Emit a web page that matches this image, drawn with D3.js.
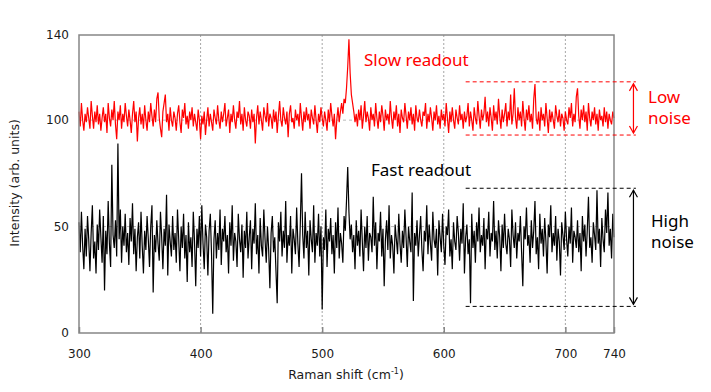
<!DOCTYPE html>
<html>
<head>
<meta charset="utf-8">
<script src="https://cdn.jsdelivr.net/npm/d3@7"></script>
<style>
  body { margin: 0; background: #fff; }
  text { font-family: "DejaVu Sans", sans-serif; }
  .note { font-family: "Noto Sans", sans-serif; }
</style>
</head>
<body>
<div id="chart"></div>
<script>
// Raman shift runs 300..740 cm-1, one point per cm-1
const shiftStart = 300;
const xTicks = [300, 400, 500, 600, 700, 740];
const yTicks = [0, 50, 100, 140];
const yGrid = [50, 100];

// slow readout (red)
const slowReadout = [
  104,97,108,100,95,103,99,106,101,96, 109,102,96,104,99,107,98,103,95,101,
  106,99,103,94,108,101,97,105,100,109, 98,91,104,100,107,96,103,99,108,102,
  97,105,100,94,103,109,99,104,90,101, 106,98,103,96,107,100,95,104,99,108,
  102,97,105,99,110,113,101,96,92,104, 108,112,99,103,95,106,100,97,104,101,
  95,103,107,99,94,105,101,108,98,102, 96,104,100,106,97,103,99,95,105,100,
  91,102,98,104,93,100,106,97,103,99, 95,105,101,98,107,100,96,104,99,103,
  108,97,101,105,94,103,99,107,100,96, 104,101,109,98,103,95,106,100,97,104,
  102,96,105,99,103,89,101,107,98,104, 100,95,106,102,99,108,97,103,101,96,
  105,99,104,94,102,109,100,97,106,101, 98,104,92,103,107,99,101,96,105,100,
  103,97,108,101,95,104,99,106,100,103, 96,105,101,98,107,100,94,103,99,106,
  101,97,104,100,95,105,99,108,102,97, 103,91,100,106,99,104,108,103,110,108,
  115,125,138,122,112,108,104,99,103,97, 105,100,107,96,102,109,99,104,101,95,
  106,100,103,97,108,101,96,104,99,107, 102,95,105,100,103,98,109,101,96,104,
  100,107,97,103,94,105,101,99,108,102, 96,104,100,106,98,103,95,107,101,99,
  105,100,97,104,102,108,96,103,99,106, 101,95,104,100,107,98,102,96,105,100,
  103,97,108,101,94,104,99,106,100,96, 105,101,98,107,100,103,96,104,99,102,
  108,97,104,100,95,106,101,98,109,102, 96,105,100,103,111,99,104,97,106,101,
  95,107,100,104,98,110,102,96,105,99, 103,108,97,104,100,112,98,103,115,101,
  96,106,100,104,97,109,101,95,105,100, 107,99,103,96,110,117,101,98,104,95,
  106,100,103,97,108,101,94,105,99,104, 100,96,107,102,99,105,97,103,101,95,
  104,100,98,106,101,108,97,103,99,111, 115,102,96,105,100,107,99,104,95,108,
  101,97,104,100,106,98,103,95,105,100, 102,97,106,99,104,96,103,100,98,104,
  101
];

// fast readout (black)
const fastReadout = [
  52,38,57,41,30,49,36,55,44,29, 47,60,35,43,28,51,39,58,45,33,
  55,20,48,37,62,42,31,79,46,40, 53,36,89,44,58,33,50,41,56,38,
  47,32,54,43,61,37,49,29,45,52, 35,57,41,28,48,39,55,44,31,50,
  60,19,46,38,53,42,34,57,45,30, 49,41,65,27,51,43,36,55,39,47,
  33,58,44,29,50,40,56,35,46,24, 52,38,45,31,57,43,22,49,40,55,
  36,60,42,30,51,45,27,48,56,37, 9,44,53,35,47,39,58,32,49,43,
  55,38,46,28,52,41,60,34,47,43, 31,56,44,38,51,26,48,40,57,35,
  45,53,30,49,42,61,37,46,28,54, 41,36,58,44,33,50,39,21,47,55,
  38,45,29,14,52,43,57,36,48,40, 62,33,46,41,55,28,49,44,37,59,
  42,31,51,75,46,35,57,40,48,27, 53,44,38,60,33,47,41,56,36,50,
  11,45,39,58,31,49,43,54,37,46, 28,52,40,59,35,47,42,33,55,48,
  62,78,57,44,51,38,46,30,53,41, 48,36,58,43,29,50,40,55,34,47,
  45,38,64,41,52,30,47,43,57,36, 49,22,44,53,39,60,35,46,41,28,
  51,44,37,56,42,33,48,40,58,45, 31,50,43,38,66,15,47,41,53,36,
  46,55,39,29,48,43,60,37,51,42, 34,57,44,40,49,27,53,45,38,56,
  41,32,50,46,58,36,44,30,52,43, 39,55,47,34,49,42,61,28,45,51,
  37,44,14,56,40,48,33,52,43,59, 38,46,41,54,30,49,44,57,36,47,
  43,62,39,48,35,53,45,29,51,40, 56,42,37,49,44,31,58,46,40,52,
  35,47,43,55,38,22,50,44,59,41, 46,33,53,40,48,62,37,45,30,56,
  42,49,36,54,43,28,51,45,60,38, 47,41,55,34,49,43,27,52,46,39,
  57,44,36,50,42,59,33,48,45,40, 53,38,47,29,55,43,51,36,48,64,
  40,45,33,52,46,39,67,42,49,31, 54,44,38,58,47,66,41,49,35,56,
  45
];

// noise bands marked on the right (y in data units, x span in cm-1)
const lowNoiseBand = [93, 118];
const highNoiseBand = [12.5, 68];
const bandSpan = [618, 758];
const arrowShift = 756;

const margin = { top: 35, right: 97, bottom: 59, left: 79 },
      width = 711 - margin.left - margin.right,
      height = 392 - margin.top - margin.bottom;

const svg = d3.select("#chart").append("svg")
  .attr("width", 711)
  .attr("height", 392);

const g = svg.append("g")
  .attr("transform", `translate(${margin.left},${margin.top})`);

const x = d3.scaleLinear().domain([300, 740]).range([0, width]);
const y = d3.scaleLinear().domain([0, 140]).range([height, 0]);

// grid
g.selectAll(".vgrid")
  .data(xTicks.filter(d => d > 300 && d < 740))
  .join("line")
  .attr("x1", d => x(d)).attr("x2", d => x(d))
  .attr("y1", 0).attr("y2", height)
  .attr("stroke", "#a6a6a6")
  .attr("stroke-width", 1)
  .attr("stroke-dasharray", "2,2");

g.selectAll(".hgrid")
  .data(yGrid)
  .join("line")
  .attr("x1", 0).attr("x2", width)
  .attr("y1", d => y(d)).attr("y2", d => y(d))
  .attr("stroke", "#a6a6a6")
  .attr("stroke-width", 0.8)
  .attr("stroke-dasharray", "3,3");

// series
const line = d3.line()
  .x((d, i) => x(shiftStart + i))
  .y(d => y(d));

g.append("path")
  .attr("fill", "none")
  .attr("stroke", "#000")
  .attr("stroke-width", 1.2)
  .attr("d", line(fastReadout));

g.append("path")
  .attr("fill", "none")
  .attr("stroke", "#ff0000")
  .attr("stroke-width", 1.2)
  .attr("d", line(slowReadout));

// frame
g.append("rect")
  .attr("width", width).attr("height", height)
  .attr("fill", "none")
  .attr("stroke", "#868686")
  .attr("stroke-width", 1.5);

// axes
const xAxis = g.append("g")
  .attr("transform", `translate(0,${height})`)
  .call(d3.axisBottom(x).tickValues(xTicks).tickSize(-6).tickPadding(16));
xAxis.select(".domain").remove();
xAxis.selectAll(".tick line").attr("stroke", "#868686").attr("stroke-width", 1.5);
xAxis.selectAll("text").attr("font-size", 12).attr("fill", "#1a1a1a")
  .attr("font-family", "DejaVu Sans, sans-serif");

const yAxis = g.append("g")
  .call(d3.axisLeft(y).tickValues(yTicks).tickSize(0).tickPadding(10));
yAxis.select(".domain").remove();
yAxis.selectAll("text").attr("font-size", 12).attr("fill", "#1a1a1a")
  .attr("font-family", "DejaVu Sans, sans-serif");

// axis titles
svg.append("text")
  .attr("transform", "translate(19,183) rotate(-90)")
  .attr("text-anchor", "middle")
  .attr("font-size", 12.5)
  .attr("fill", "#1a1a1a")
  .text("Intensity (arb. units)");

const xt = svg.append("text")
  .attr("x", 346).attr("y", 379)
  .attr("text-anchor", "middle")
  .attr("font-size", 12.5)
  .attr("fill", "#1a1a1a");
xt.append("tspan").text("Raman shift (cm");
xt.append("tspan").attr("font-size", 8).attr("dy", -5).text("-1");
xt.append("tspan").attr("dy", 5).text(")");

// noise band markers
function band(vals, color) {
  g.selectAll(null)
    .data(vals)
    .join("line")
    .attr("x1", x(bandSpan[0])).attr("x2", x(bandSpan[1]))
    .attr("y1", d => y(d)).attr("y2", d => y(d))
    .attr("stroke", color)
    .attr("stroke-width", 1)
    .attr("stroke-dasharray", "4,3");
  const ax = x(arrowShift), top = y(vals[1]) + 2, bot = y(vals[0]) - 2;
  g.append("line")
    .attr("x1", ax).attr("x2", ax).attr("y1", top).attr("y2", bot)
    .attr("stroke", color).attr("stroke-width", 1.2);
  g.append("path")
    .attr("d", `M${ax - 4},${top + 7}L${ax},${top}L${ax + 4},${top + 7}M${ax - 4},${bot - 7}L${ax},${bot}L${ax + 4},${bot - 7}`)
    .attr("fill", "none").attr("stroke", color).attr("stroke-width", 1.2);
}
band(lowNoiseBand, "#ff0000");
band(highNoiseBand, "#000");

// annotations
svg.append("text").attr("class", "note")
  .attr("x", 364).attr("y", 66).attr("font-size", 17).attr("fill", "#ff0000")
  .text("Slow readout");
svg.append("text").attr("class", "note")
  .attr("x", 371).attr("y", 176).attr("font-size", 17).attr("fill", "#000")
  .text("Fast readout");

const low = svg.append("text").attr("class", "note")
  .attr("x", 648).attr("y", 103).attr("font-size", 17).attr("fill", "#ff0000");
low.append("tspan").attr("x", 648).text("Low");
low.append("tspan").attr("x", 648).attr("dy", 21).text("noise");

const high = svg.append("text").attr("class", "note")
  .attr("x", 651).attr("y", 227).attr("font-size", 17).attr("fill", "#000");
high.append("tspan").attr("x", 651).text("High");
high.append("tspan").attr("x", 651).attr("dy", 21).text("noise");
</script>
</body>
</html>
